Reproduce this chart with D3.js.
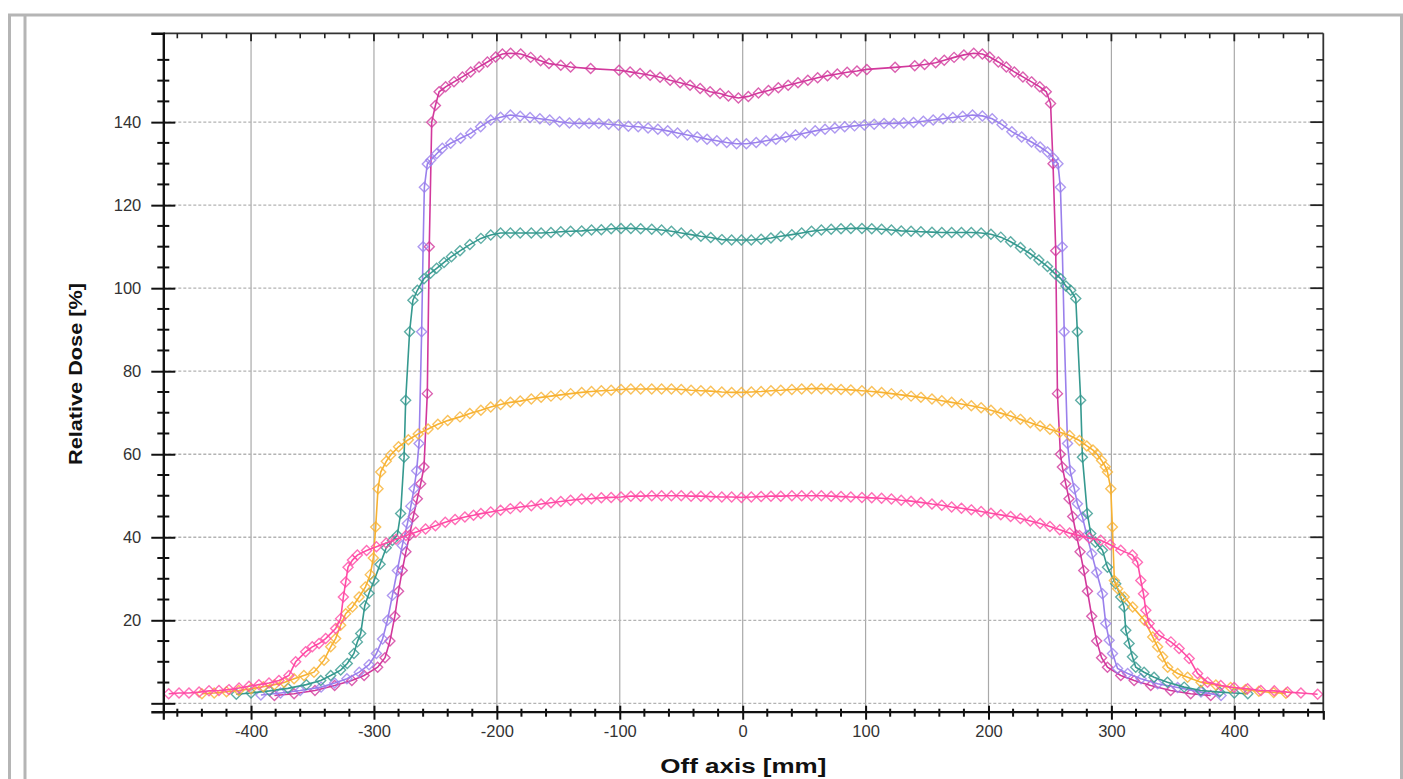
<!DOCTYPE html>
<html><head><meta charset="utf-8">
<script src="https://cdn.jsdelivr.net/npm/d3@7"></script>
<style>body{margin:0;background:#fff;} svg{display:block;}</style>
</head><body>
<svg id="c" width="1403" height="779"></svg>
<script>
// ---------------- DATA ----------------
const xMajorTicks = [-400,-300,-200,-100,0,100,200,300,400];
const xTickLabels = ["-400","-300","-200","-100","0","100","200","300","400"];
const yMajorTicks = [0,20,40,60,80,100,120,140];
const yTickLabels = ["","20","40","60","80","100","120","140"];
const xTitle = "Off axis [mm]";
const yTitle = "Relative Dose [%]";

// series 1 (magenta, highest)
const seriesMagenta = [[-381,1.9],[-365,2.3],[-348,3.1],[-332,4.3],[-318,5.5],[-308,6.7],[-297,8.7],[-291,11],[-287,15],[-283,21],[-280,27],[-277,32],[-274,36.5],[-271,40.5],[-268,45],[-264.7,49.3],[-262,52.9],[-259.3,56.9],[-256.6,74.6],[-255,110],[-253,140],[-250,144],[-247,147.3],[-241.7,148.5],[-234.9,149.7],[-228,150.9],[-221.3,152.1],[-214.5,153.3],[-207.7,154.5],[-201,155.7],[-195.5,156.4],[-188.8,156.6],[-180.6,156.4],[-172.5,155.6],[-164.4,154.8],[-157.6,154.1],[-148,153.7],[-140,153.3],[-123.7,152.9],[-100.6,152.5],[-91.6,152.1],[-83.5,151.7],[-75.3,151.3],[-67.2,150.8],[-59,150.1],[-50.9,149.5],[-42.8,148.9],[-34.6,148.1],[-26.5,147.3],[-18.4,146.9],[-11.6,146.3],[-3.5,145.8],[4.6,146.2],[12.8,147.0],[21,147.6],[29,148.3],[37,148.9],[45,149.5],[53,150.1],[61,150.7],[69,151.2],[77,151.6],[85,152.0],[93,152.3],[101,152.7],[124,153.2],[140,153.6],[148,153.9],[157,154.3],[164,154.9],[172,155.6],[180,156.2],[188,156.6],[195,156.4],[201,155.7],[208,154.5],[214.5,153.3],[221,152.1],[228,150.9],[235,149.7],[241.7,148.5],[247,147.3],[250.5,144.5],[252.5,130],[254.7,109],[256.1,74.6],[258.5,60],[260.1,56.9],[262.8,52.9],[265.5,49.3],[268.5,45],[271.5,40.5],[274.5,36.5],[277.5,32],[280.5,27],[284,21],[288,15],[292,11],[296.8,8.7],[307.6,6.7],[318.5,5.5],[332,4.3],[348.2,3.1],[364.5,2.3],[380.8,1.9]];

// series 2 (purple)
const seriesPurple = [[-392,2.0],[-376,2.5],[-360,3.1],[-343,3.9],[-332,4.9],[-322,5.9],[-312,7.5],[-304,9.3],[-298,12],[-293,15.5],[-289,20],[-285,26],[-281,32],[-277,38],[-272.8,43.3],[-270,47.5],[-267.4,51.7],[-265.3,56],[-263.3,62.6],[-261.2,89.5],[-260,110],[-259,124.3],[-256.6,129.9],[-253.9,130.8],[-249,132.4],[-244.4,133.7],[-237.6,134.9],[-229.5,136.1],[-221.3,137.3],[-213.2,138.9],[-205,140.5],[-197,141.2],[-189,141.7],[-181,141.4],[-173,141.1],[-165,140.8],[-157,140.5],[-149,140.1],[-141,139.8],[-133,139.7],[-125,139.7],[-117,139.7],[-109,139.5],[-101,139.3],[-93,139.0],[-85,138.9],[-77,138.6],[-69,138.3],[-61,137.9],[-53,137.4],[-45,136.9],[-37,136.4],[-29,135.9],[-21,135.5],[-13,135.1],[-5,134.8],[3,134.8],[11,135.1],[19,135.5],[27,135.9],[35,136.4],[43,136.9],[51,137.4],[59,137.9],[67,138.3],[75,138.6],[83,138.9],[91,139.1],[99,139.3],[107,139.5],[115,139.7],[123,139.7],[131,139.8],[139,139.9],[147,140.2],[155,140.5],[163,140.8],[171,141.1],[179,141.4],[187,141.7],[195,141.5],[203,140.8],[211,139.4],[219,137.7],[227,136.4],[235,135.2],[242,134],[248,132.8],[253,131.3],[256.5,130],[258.5,124.3],[260,110],[261.6,89.5],[264.3,62.6],[266.5,56],[269.8,51.7],[272.3,48.1],[276.4,44.9],[280,40.5],[284,36],[288,31.5],[292.7,26.4],[295.4,19.2],[298.2,15.2],[300.9,12],[305,8.4],[313.2,7.2],[324.1,5.9],[337.6,4.7],[353.9,3.8],[372.9,2.7],[389.2,1.9]];

// series 3 (teal)
const seriesTeal = [[-412,2.2],[-400,2.5],[-385,3.0],[-370,3.6],[-355,4.5],[-343.3,5.5],[-335.2,6.7],[-327.1,8.0],[-321.7,9.6],[-316.3,12.0],[-313.5,14.8],[-310.8,16.8],[-307.5,23.5],[-304,26.5],[-300,29.5],[-295,33.5],[-290,37.5],[-285,39.2],[-281,40.5],[-278.3,45.7],[-275.5,59.3],[-274.2,73],[-271,89.5],[-268.3,97.1],[-264.7,99.5],[-259.3,102.3],[-254,103.6],[-249,104.8],[-243,106.2],[-237,107.6],[-230,109],[-222,110.5],[-213,112.0],[-205,112.8],[-197,113.3],[-189,113.3],[-181,113.3],[-172,113.3],[-164,113.3],[-156,113.4],[-148,113.6],[-140,113.7],[-131,113.8],[-123,114.0],[-115,114.1],[-107,114.3],[-99,114.4],[-91,114.4],[-83,114.3],[-74,114.2],[-66,114.0],[-58,113.7],[-50,113.3],[-42,112.9],[-34,112.5],[-26,112.2],[-17,111.7],[-9,111.6],[-1,111.6],[7,111.6],[15,111.8],[23,112.1],[31,112.5],[40,112.9],[48,113.3],[56,113.7],[64,114.0],[72,114.2],[80,114.3],[88,114.4],[97,114.4],[105,114.3],[113,114.2],[121,114.0],[129,113.8],[137,113.7],[145,113.6],[154,113.5],[162,113.4],[170,113.4],[178,113.4],[186,113.4],[194,113.3],[202,113.0],[210,112.3],[218,111.2],[226,109.8],[234,108.3],[241,106.8],[248,105.2],[254,103.5],[258.8,102.3],[263,100.5],[266.9,99.5],[271,97.5],[272.3,89.5],[275,73],[276.4,59.3],[280.4,45.7],[283.2,40.9],[287,38.8],[292.7,36.9],[296.8,32.8],[303.5,28.8],[307.6,25.6],[310.3,23.2],[311.7,17.6],[314.4,14.4],[317.1,11.2],[319.8,8.7],[326.6,7.5],[334.7,6.3],[345.6,5.1],[359.2,3.9],[372.7,3.1],[388,2.7],[400,2.5],[411,2.3]];

// series 4 (orange)
const seriesOrange = [[-440,2.3],[-430,2.5],[-420,2.8],[-410,3.1],[-400,3.5],[-390,4.0],[-381,4.5],[-373,5.0],[-365,5.9],[-357,6.7],[-348.8,7.5],[-340.6,10.4],[-335.2,13.6],[-331.2,15.6],[-327.1,18.8],[-323,21.6],[-317.5,23.2],[-312.1,25.6],[-307,28],[-303,31],[-300.5,35],[-298.6,42.5],[-296.7,51.7],[-294.5,55.7],[-290,58.3],[-286.4,59.8],[-280,61.8],[-272,63.5],[-264,64.9],[-256,66.1],[-248,67.2],[-240,68.1],[-230,69.0],[-222,69.8],[-213,70.6],[-205,71.4],[-197,72.0],[-189,72.5],[-181,72.8],[-172,73.3],[-164,73.7],[-156,74.0],[-148,74.3],[-140,74.6],[-131,74.9],[-123,75.1],[-115,75.3],[-107,75.4],[-99,75.6],[-91,75.7],[-83,75.7],[-74,75.7],[-66,75.7],[-58,75.7],[-50,75.6],[-42,75.4],[-34,75.3],[-26,75.2],[-17,75.0],[-9,74.9],[-1,74.9],[7,75.0],[15,75.1],[23,75.3],[31,75.4],[40,75.6],[48,75.7],[56,75.8],[64,75.8],[72,75.7],[80,75.6],[88,75.5],[97,75.3],[105,75.1],[113,74.9],[121,74.6],[129,74.3],[137,74.0],[145,73.7],[154,73.3],[162,72.9],[170,72.5],[178,72.1],[186,71.7],[194,71.2],[202,70.6],[210,69.9],[218,69.2],[226,68.4],[234,67.6],[242,66.8],[250,66.0],[258,65.3],[266,64.5],[274,63.3],[280,62.0],[285,61.0],[288.4,60.0],[292,58.5],[295,57],[296.8,55.7],[299.5,51.7],[300.8,42.5],[302.4,29.6],[305.1,27.6],[310.5,25.6],[317.3,23.2],[326.8,20.0],[333.6,16.0],[337.6,13.6],[341.7,11.2],[345.8,8.7],[353.9,7.2],[362,6.3],[372.9,5.1],[385,4.4],[397,3.8],[409,3.3],[420,2.9],[432,2.6],[442,2.4]];

// series 5 (pink, lowest plateau)
const seriesPink = [[-467,2.3],[-458.6,2.5],[-450.5,2.5],[-442.3,2.7],[-434.2,3.0],[-426.1,3.1],[-418,3.3],[-409.8,3.7],[-401.7,4.1],[-393.6,4.5],[-385.4,4.9],[-377.3,5.5],[-369.2,6.7],[-363.7,10.0],[-355.6,12.4],[-350.2,13.6],[-344.7,14.4],[-339.3,15.6],[-331.2,18.0],[-327.1,20.4],[-324.9,25.6],[-323,29.2],[-321.1,32.8],[-317.5,34.5],[-313.5,35.7],[-306,36.8],[-298,37.7],[-290,38.6],[-282,39.5],[-274,40.4],[-266,41.2],[-258,42.0],[-250,42.8],[-242,43.6],[-234,44.3],[-226,44.9],[-219,45.3],[-213,45.7],[-205,46.1],[-197,46.5],[-189,46.9],[-181,47.3],[-172,47.6],[-164,48.0],[-156,48.3],[-148,48.6],[-140,48.9],[-131,49.2],[-123,49.3],[-115,49.5],[-107,49.6],[-99,49.7],[-91,49.9],[-83,49.9],[-74,50.0],[-66,50.0],[-58,50.0],[-50,50.0],[-42,49.9],[-34,49.9],[-26,49.8],[-17,49.7],[-9,49.7],[-1,49.6],[7,49.7],[15,49.8],[23,49.9],[31,49.9],[40,50.0],[48,50.0],[56,50.0],[64,50.0],[72,49.9],[80,49.8],[88,49.7],[97,49.6],[105,49.5],[113,49.4],[121,49.2],[129,48.9],[137,48.7],[145,48.4],[154,48.0],[162,47.7],[170,47.3],[178,47.0],[186,46.6],[194,46.2],[202,45.8],[210,45.4],[218,45.0],[226,44.5],[234,43.9],[242,43.3],[250,42.6],[258,41.8],[266,41.0],[274,40.4],[282,39.8],[291.3,39.3],[299,38.2],[307.6,36.9],[317.1,35.7],[321.2,34.0],[323.9,29.6],[326.1,26.4],[328,22.4],[330.7,19.2],[338.8,16.4],[348.4,14.8],[355.1,13.2],[363.3,10.8],[370.1,7.2],[378.2,5.1],[389,4.3],[399.9,3.8],[410.8,3.5],[421.6,3.1],[432.5,3.0],[443.3,2.7],[454.2,2.5],[467.8,2.2]];

const seriesList = [
  {name:"S1", data:seriesMagenta, color:"#d2389c"},
  {name:"S2", data:seriesPurple,  color:"#9a80ec"},
  {name:"S3", data:seriesTeal,    color:"#35998f"},
  {name:"S4", data:seriesOrange,  color:"#f7b232"},
  {name:"S5", data:seriesPink,    color:"#ff4aa5"}
];

// ---------------- LAYOUT ----------------
const plot = {left:163.3, right:1323.3, top:33.3, bottom:711.7};
const x = d3.scaleLinear().domain([-471.4, 472.4]).range([plot.left, plot.right]);
const y = d3.scaleLinear().domain([-2.02, 161.4]).range([plot.bottom, plot.top]);
const xMinor = d3.range(-460, 461, 20).filter(v => v % 100 !== 0);
const yMinor = d3.range(5, 156, 5).filter(v => v % 20 !== 0);

const svg = d3.select("#c");
svg.append("rect").attr("width",1403).attr("height",779).attr("fill","#fff");

// outer frame
svg.append("rect").attr("x",9.5).attr("y",15).attr("width",1392).attr("height",820)
  .attr("fill","none").attr("stroke","#b5b5b5").attr("stroke-width",3);
svg.append("line").attr("x1",25).attr("x2",25).attr("y1",15).attr("y2",779)
  .attr("stroke","#b5b5b5").attr("stroke-width",3);

// gridlines
svg.append("g").selectAll("line").data(xMajorTicks).join("line")
  .attr("x1",d=>x(d)).attr("x2",d=>x(d)).attr("y1",plot.top).attr("y2",plot.bottom)
  .attr("stroke","#a9a9a9").attr("stroke-width",1.2);
svg.append("g").selectAll("line").data(yMajorTicks).join("line")
  .attr("x1",plot.left).attr("x2",plot.right).attr("y1",d=>y(d)).attr("y2",d=>y(d))
  .attr("stroke","#b3b3b3").attr("stroke-width",1.3).attr("stroke-dasharray","3,2");

// series
const line = d3.line().x(d=>x(d[0])).y(d=>y(d[1]));
const diamond = "M0,-5L5,0L0,5L-5,0Z";
seriesList.forEach(s => {
  const g = svg.append("g");
  g.append("path").attr("d", line(s.data)).attr("fill","none")
    .attr("stroke", s.color).attr("stroke-width",1.6);
  g.selectAll("path.m").data(s.data).join("path").attr("class","m")
    .attr("d", diamond)
    .attr("transform", d=>`translate(${x(d[0])},${y(d[1])})`)
    .attr("fill","none").attr("stroke", s.color).attr("stroke-width",1.4).attr("stroke-opacity",0.8);
});

// axes frame lines
svg.append("line").attr("x1",plot.left).attr("x2",plot.right).attr("y1",plot.top).attr("y2",plot.top)
  .attr("stroke","#333").attr("stroke-width",1.8);
svg.append("line").attr("x1",plot.right).attr("x2",plot.right).attr("y1",plot.top).attr("y2",plot.bottom)
  .attr("stroke","#333").attr("stroke-width",1.8);

// bottom axis
const axB = svg.append("g").attr("transform",`translate(0,${plot.bottom})`)
  .call(d3.axisBottom(x).tickValues(xMajorTicks).tickSize(8).tickFormat((d,i)=>xTickLabels[i]));
axB.select(".domain").attr("stroke","#111").attr("stroke-width",2.2);
axB.selectAll(".tick line").attr("y1",-6).attr("stroke","#111").attr("stroke-width",2);
axB.selectAll(".tick text").attr("y",25.5).attr("dy",null)
  .attr("font-family","'Liberation Sans', Arial, sans-serif").attr("font-size",16.5).attr("fill","#333");
svg.append("g").selectAll("line").data(xMinor).join("line")
  .attr("x1",d=>x(d)).attr("x2",d=>x(d)).attr("y1",plot.bottom-3).attr("y2",plot.bottom+5)
  .attr("stroke","#111").attr("stroke-width",2);

// top axis ticks (inward)
svg.append("g").selectAll("line").data(xMajorTicks).join("line")
  .attr("x1",d=>x(d)).attr("x2",d=>x(d)).attr("y1",plot.top).attr("y2",plot.top+8)
  .attr("stroke","#222").attr("stroke-width",1.8);
svg.append("g").selectAll("line").data(xMinor).join("line")
  .attr("x1",d=>x(d)).attr("x2",d=>x(d)).attr("y1",plot.top).attr("y2",plot.top+5)
  .attr("stroke","#222").attr("stroke-width",1.6);

// left axis
const axL = svg.append("g").attr("transform",`translate(${plot.left},0)`)
  .call(d3.axisLeft(y).tickValues(yMajorTicks).tickSize(12).tickPadding(10).tickFormat((d,i)=>yTickLabels[i]));
axL.select(".domain").attr("stroke","#111").attr("stroke-width",2.4);
axL.selectAll(".tick line").attr("x1",12).attr("stroke","#111").attr("stroke-width",2);
axL.selectAll(".tick text").attr("font-family","'Liberation Sans', Arial, sans-serif")
  .attr("font-size",16.5).attr("fill","#333");
svg.append("g").selectAll("line").data(yMinor).join("line")
  .attr("x1",plot.left-6).attr("x2",plot.left+6).attr("y1",d=>y(d)).attr("y2",d=>y(d))
  .attr("stroke","#111").attr("stroke-width",2);

// right axis ticks (inward)
svg.append("g").selectAll("line").data(yMajorTicks).join("line")
  .attr("x1",plot.right-13).attr("x2",plot.right).attr("y1",d=>y(d)).attr("y2",d=>y(d))
  .attr("stroke","#222").attr("stroke-width",1.8);
svg.append("g").selectAll("line").data(yMinor).join("line")
  .attr("x1",plot.right-7).attr("x2",plot.right).attr("y1",d=>y(d)).attr("y2",d=>y(d))
  .attr("stroke","#222").attr("stroke-width",1.6);

// titles
svg.append("text").attr("x",(plot.left+plot.right)/2).attr("y",773)
  .attr("text-anchor","middle").attr("font-family","'Liberation Sans', Arial, sans-serif")
  .attr("font-weight","bold").attr("font-size",20).attr("fill","#111")
  .attr("textLength",166).attr("lengthAdjust","spacingAndGlyphs").text(xTitle);
svg.append("text").attr("transform","translate(82,374) rotate(-90)")
  .attr("text-anchor","middle").attr("font-family","'Liberation Sans', Arial, sans-serif")
  .attr("font-weight","bold").attr("font-size",19).attr("fill","#111")
  .attr("textLength",182).attr("lengthAdjust","spacingAndGlyphs").text(yTitle);
</script>
</body></html>
